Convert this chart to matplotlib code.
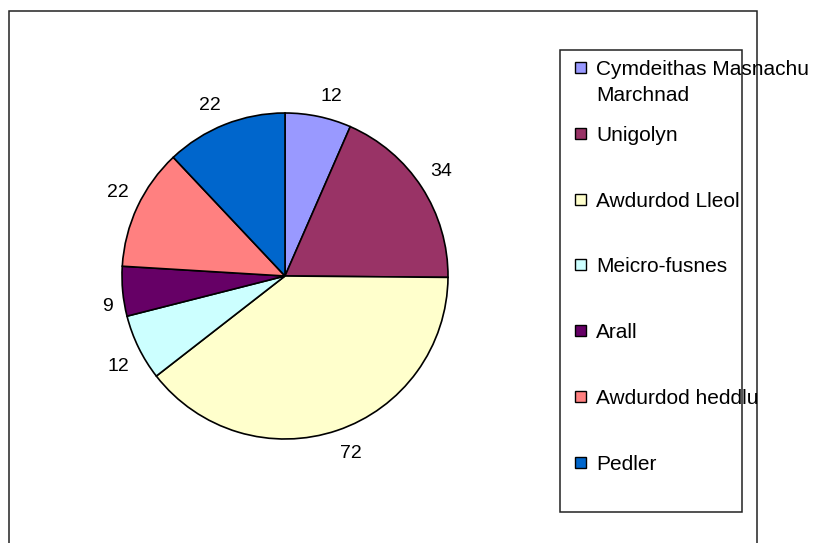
import numpy as np
import matplotlib
matplotlib.use('Agg')
import matplotlib.pyplot as plt
from matplotlib.patches import Rectangle

plt.rcParams['font.family'] = ['Liberation Sans', 'DejaVu Sans']

categories = ['Cymdeithas Masnachu\nMarchnad', 'Unigolyn', 'Awdurdod Lleol',
              'Meicro-fusnes', 'Arall', 'Awdurdod heddlu', 'Pedler']
values = [12, 34, 72, 12, 9, 22, 22]
colors = ['#9999FF', '#993366', '#FFFFCC', '#CCFFFF', '#660066', '#FF8080', '#0066CC']

W, H = 813, 543
fig = plt.figure(figsize=(W / 100, H / 100), dpi=100)

def fx(px):
    return px / W

def fy(py):
    # py measured from top of the image
    return 1 - py / H

# outer chart frame
fig.patches.append(Rectangle((fx(9), fy(560)), fx(757) - fx(9), fy(11) - fy(560),
                             transform=fig.transFigure, fill=False,
                             edgecolor='#222222', linewidth=1.1, clip_on=False))

# pie axes: centre (285, 276), radius 163 px
cx, cy, r = 285, 276, 163
lim = 1.3
side = 2 * lim * r
ax = fig.add_axes([fx(cx - side / 2), fy(cy + side / 2), side / W, side / H])
wedges, texts = ax.pie(values, labels=[str(v) for v in values], colors=colors,
                       startangle=90, counterclock=False, labeldistance=1.18,
                       wedgeprops=dict(edgecolor='black', linewidth=1.2),
                       textprops=dict(fontsize=14))
ax.set_xlim(-lim, lim)
ax.set_ylim(-lim, lim)
ax.set_aspect('equal')
ax.axis('off')

# excel-like label placement: the label box corner sits just outside the rim
renderer = fig.canvas.get_renderer()
for w, t in zip(wedges, texts):
    ang = np.deg2rad((w.theta1 + w.theta2) / 2)
    c, s = np.cos(ang), np.sin(ang)
    tw = t.get_window_extent(renderer).width
    d = r + 10
    px = c * d + np.sign(c) * tw / 2
    py = s * d + np.sign(s) * 12
    t.set_position((px / r, py / r))
    t.set_horizontalalignment('center')
    t.set_verticalalignment('center_baseline')

# legend box drawn by hand so that text may overflow like the original
fig.patches.append(Rectangle((fx(560), fy(512)), fx(742) - fx(560), fy(50) - fy(512),
                             transform=fig.transFigure, fill=False,
                             edgecolor='#222222', linewidth=1.1))
for i, (lab, col) in enumerate(zip(categories, colors)):
    yc = 67.5 + i * 65.8
    fig.patches.append(Rectangle((fx(574.5), fy(yc + 5.5)), 11 / W, 11 / H,
                                 transform=fig.transFigure, facecolor=col,
                                 edgecolor='black', linewidth=1.0))
    for k, line in enumerate(lab.split('\n')):
        fig.text(fx(596), fy(yc + 7.5 + k * 26), line, fontsize=15,
                 va='baseline', ha='left')

fig.savefig('out.png', dpi=100)
